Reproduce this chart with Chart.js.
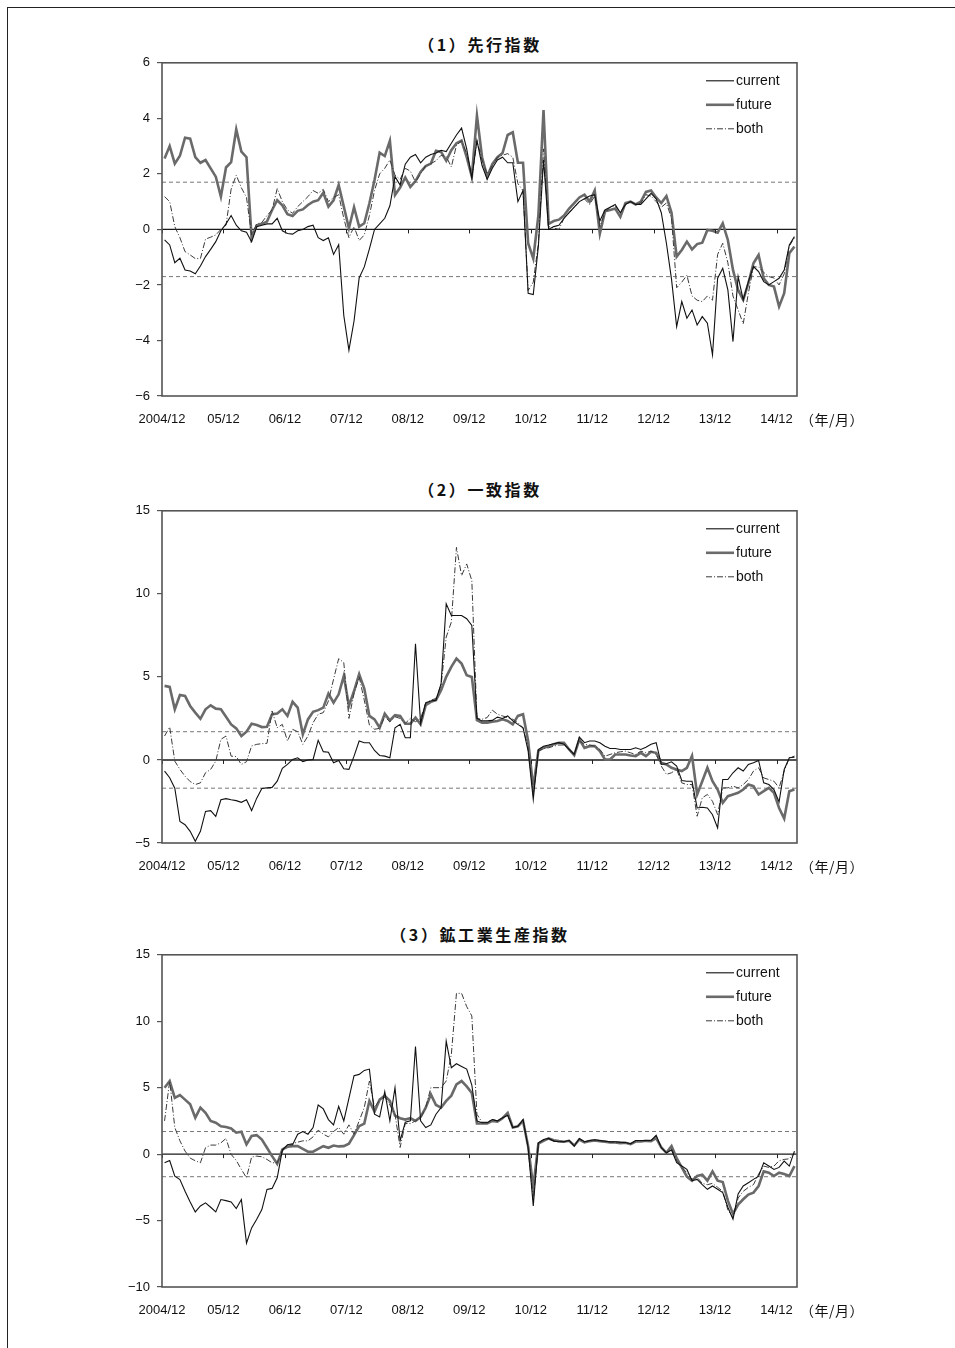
<!DOCTYPE html>
<html lang="ja">
<head>
<meta charset="utf-8">
<title>先行指数・一致指数・鉱工業生産指数</title>
<script src="https://cdn.jsdelivr.net/npm/chart.js@4.4.1/dist/chart.umd.min.js"></script>
<style>
  html, body { margin: 0; padding: 0; background: #fff; }
  body { width: 955px; height: 1348px; position: relative; overflow: hidden; }
  .sheet { position: absolute; left: 7px; top: 7px; width: 960px; height: 1360px;
           border-top: 1px solid #222; border-left: 1px solid #222; }
  canvas { position: absolute; left: 0; }
  .title { position: absolute; left: 0; width: 960px; text-align: center;
           font-family: "Noto Sans CJK JP", sans-serif; font-weight: bold; font-size: 16px;
           letter-spacing: 2.6px; color: #111; }
  .unit { position: absolute; left: 800px; font-family: "Noto Sans CJK JP", sans-serif;
          font-size: 14px; letter-spacing: 0.5px; color: #111; }
</style>
</head>
<body>
<div class="sheet"></div>

<div class="title" style="top:32px">（1）先行指数</div>
<canvas id="c1" width="955" height="387" style="top:48px"></canvas>
<div class="unit" style="top:409px">（年/月）</div>

<div class="title" style="top:477px">（2）一致指数</div>
<canvas id="c2" width="955" height="387" style="top:496px"></canvas>
<div class="unit" style="top:856px">（年/月）</div>

<div class="title" style="top:922px">（3）鉱工業生産指数</div>
<canvas id="c3" width="955" height="387" style="top:940px"></canvas>
<div class="unit" style="top:1300px">（年/月）</div>

<script>
// Monthly series, first value = 2004/12 (month index 0)
const tickMonths = [0, 12, 24, 36, 48, 60, 72, 84, 96, 108, 120];
const tickLabels = ['2004/12', '05/12', '06/12', '07/12', '08/12', '09/12', '10/12', '11/12', '12/12', '13/12', '14/12'];
const seriesNames = ['current', 'future', 'both'];
const bandLevel = 1.7;

// (1) 先行指数
const leadCurrent = [
  -0.38, -0.56, -1.2, -1.04, -1.46, -1.5, -1.6, -1.32, -0.98, -0.72, -0.44, -0.05,
  0.2, 0.5, 0.15, -0.05, -0.1, -0.45, 0.1, 0.15, 0.2, 0.2, 0.4, -0.05,
  -0.15, -0.17, -0.05, 0.0, 0.1, 0.15, -0.3, -0.4, -0.3, -0.9, -0.55, -3.1,
  -4.35, -3.3, -1.75, -1.35, -0.7, 0.0, 0.2, 0.4, 0.85, 1.9, 1.6, 2.35,
  2.6, 2.7, 2.4, 2.6, 2.7, 2.75, 2.85, 2.8, 3.1, 3.4, 3.65, 2.9,
  1.85, 3.2, 2.3, 1.8, 2.2, 2.5, 2.6, 2.4, 2.4, 1.0, 1.4, -2.3,
  -2.35, -0.6, 2.5, 0.0, 0.1, 0.15, 0.4, 0.6, 0.8, 1.0, 1.1, 1.2,
  1.25, 0.3, 0.7, 0.8, 0.9, 0.6, 0.9, 1.0, 0.9, 0.9, 1.1, 1.3,
  1.1, 0.6, -0.5, -1.8, -3.5, -2.6, -3.2, -2.9, -3.44, -3.14, -3.38, -4.52,
  -1.76, -1.4, -2.18, -4.04, -1.7, -2.54, -1.88, -1.34, -1.52, -1.88, -2.0, -1.88,
  -1.76, -1.46, -0.56, -0.26
];
const leadFuture = [
  2.55, 3.0, 2.37, 2.65, 3.3, 3.27, 2.6, 2.4, 2.5, 2.2, 1.9, 1.18,
  2.23, 2.42, 3.6, 2.8, 2.6, -0.3, 0.15, 0.2, 0.28, 0.7, 1.05, 0.87,
  0.55, 0.48, 0.67, 0.72, 0.88, 1.0, 1.05, 1.32, 0.82, 1.05, 1.6, 0.82,
  0.04, 0.8, 0.1, 0.22, 0.94, 1.78, 2.76, 2.64, 3.19, 1.24, 1.51, 1.87,
  1.53, 1.74, 2.07, 2.28, 2.37, 2.83, 2.79, 2.47, 2.85, 3.1, 3.2, 2.6,
  1.9, 4.1, 2.6, 1.9, 2.35, 2.6, 2.75, 3.4, 3.5, 2.4, 2.4, -0.5,
  -1.05, 0.5, 4.3, 0.2, 0.3, 0.35, 0.5, 0.75, 0.95, 1.15, 1.25, 1.0,
  1.4, -0.15, 0.65, 0.7, 0.75, 0.45, 0.95, 1.0, 0.9, 1.0, 1.35, 1.4,
  1.15, 0.95, 1.2, 0.6, -0.98, -0.74, -0.44, -0.72, -0.53, -0.48, -0.02, -0.05,
  -0.12, 0.22, -0.38, -1.46, -2.18, -2.54, -1.94, -1.22, -0.92, -1.76, -2.0, -2.06,
  -2.78, -2.3, -0.86, -0.62
];
const leadBoth = [
  1.18, 1.0, 0.1, -0.3, -0.8, -0.92, -1.05, -1.05, -0.35, -0.28, -0.2, 0.0,
  0.15, 1.45, 1.95, 1.5, 1.15, -0.2, 0.2, 0.25, 0.5, 0.7, 1.47, 1.0,
  0.7, 0.58, 0.82, 1.0, 1.18, 1.4, 1.3, 1.44, 1.0, 1.15, 1.25, 0.4,
  -0.3, 0.1, -0.4, -0.2, 0.5, 1.4, 2.0, 2.2, 2.5, 1.95, 1.8, 2.2,
  2.1, 1.7, 2.0, 2.3, 2.37, 2.47, 2.67, 2.62, 2.25, 3.03, 3.19, 2.73,
  1.84, 3.2, 2.5, 2.0, 2.3, 2.6, 2.67, 2.73, 2.6, 1.65, 1.4, -2.2,
  -1.9, -0.5, 2.9, 0.1, 0.05, 0.0, 0.4, 0.6, 0.8, 1.0, 1.1, 0.9,
  1.2, 0.1, 0.6, 0.8, 0.85, 0.6, 0.9, 1.0, 0.9, 0.95, 1.25, 1.2,
  1.0, 0.8, 0.95, 0.4, -2.1, -1.9, -1.65, -2.4, -2.55, -2.6, -2.4, -2.55,
  -0.9, -0.5, -1.2, -2.4, -2.9, -3.4, -2.3, -1.35, -1.35, -1.55, -1.7, -1.75,
  -2.0, -1.6, -0.6, -0.3
];

// (2) 一致指数
const coinCurrent = [
  -0.67, -1.07, -1.7, -3.7, -3.9, -4.3, -4.9, -4.3, -3.1, -3.05, -3.4, -2.4,
  -2.33, -2.4, -2.45, -2.55, -2.4, -3.05, -2.3, -1.72, -1.68, -1.65, -1.28, -0.5,
  -0.27, 0.03, 0.13, -0.1, 0.0, 0.03, 1.18, 0.5, 0.47, -0.17, -0.03, -0.53,
  -0.57, 0.23, 1.14, 1.04, 1.04, 0.57, 0.27, 0.23, 0.13, 1.94, 2.14, 1.34,
  1.34, 7.0, 2.2, 3.45, 3.55, 3.6, 4.6, 9.4, 8.7, 8.7, 8.7, 8.5,
  8.1, 2.5, 2.35, 2.35, 2.38, 2.58, 2.5, 2.65, 2.35, 2.14, 1.94, 0.53,
  -2.38, 0.63, 0.83, 0.9, 0.98, 1.04, 0.94, 0.63, 0.33, 1.38, 1.04, 1.14,
  1.14, 1.04, 0.83, 0.69, 0.69, 0.63, 0.63, 0.63, 0.73, 0.63, 0.77, 0.94,
  1.04, -0.27, -0.23, -0.11, -0.37, -1.24, -1.28, -1.28, -2.89, -2.85, -2.89, -3.3,
  -4.09, -1.18, -1.18, -0.77, -0.47, -0.67, -0.27, -0.17, -0.03, -1.38, -1.48, -1.78,
  -2.53, -0.57, 0.13, 0.17
];
const coinFuture = [
  4.46, 4.4, 3.05, 3.91, 3.85, 3.25, 2.85, 2.48, 3.05, 3.29, 3.09, 3.05,
  2.6, 2.14, 1.9, 1.44, 1.7, 2.18, 2.1, 1.98, 2.0, 2.75, 2.8, 3.05,
  2.65, 3.5, 3.15, 1.54, 2.44, 2.9, 3.0, 3.15, 4.0, 3.45, 3.95, 5.06,
  3.25, 4.15, 5.16, 4.3, 2.65, 2.44, 1.94, 2.79, 2.38, 2.7, 2.65, 2.18,
  2.18, 2.55, 2.14, 3.3, 3.5, 3.6, 4.2, 5.0, 5.6, 6.1, 5.8, 5.1,
  5.0, 2.4, 2.24, 2.24, 2.3, 2.35, 2.45, 2.35, 2.14, 2.65, 2.75, 1.14,
  -1.68, 0.57, 0.73, 0.83, 0.94, 1.04, 1.04, 0.63, 0.29, 1.24, 0.73, 0.83,
  0.83, 0.53, 0.03, 0.03, 0.33, 0.33, 0.33, 0.27, 0.23, 0.43, 0.23, 0.49,
  0.43, -0.17, -0.27, -0.47, -0.57, -0.67, -0.47, 0.25, -2.08, -1.28, -0.47, -1.28,
  -1.78, -2.58, -2.18, -2.08, -1.98, -1.78, -1.48, -1.58, -2.08, -1.88, -1.68, -1.98,
  -2.89, -3.53, -1.88, -1.78
];
const coinBoth = [
  1.44, 1.98, -0.07, -0.57, -0.98, -1.3, -1.48, -1.38, -0.77, -0.57, -0.07, 1.24,
  1.44, 0.23, 0.2, -0.27, -0.11, 0.84, 0.94, 0.98, 1.0, 2.95, 1.94, 2.14,
  1.14, 1.84, 1.7, 0.94, 1.44, 2.24, 2.75, 2.85, 3.55, 4.86, 6.1, 5.86,
  2.5, 4.0, 5.0, 3.6, 2.1, 1.85, 1.9, 2.6, 2.3, 2.6, 2.5, 2.2,
  2.5, 2.3, 2.5, 3.4, 3.6, 3.7, 4.5, 7.4, 8.3, 12.8, 11.1, 11.8,
  10.8, 2.5, 2.45, 2.55, 3.0, 2.75, 2.65, 2.55, 2.45, 2.24, 1.94, 0.73,
  -1.98, 0.53, 0.69, 0.73, 0.83, 0.9, 0.9, 0.63, 0.37, 1.14, 0.94, 0.9,
  0.83, 0.63, 0.23, 0.33, 0.43, 0.49, 0.53, 0.43, 0.33, 0.53, 0.43, 0.53,
  0.33, -0.37, -0.87, -0.77, -0.57, -1.38, -1.48, -1.48, -3.39, -2.28, -2.08, -2.49,
  -3.29, -1.68, -1.68, -1.58, -1.68, -1.48, -1.18, -0.67, -0.47, -1.08, -1.18, -1.28,
  -1.68, -0.67, 0.13, 0.23
];

// (3) 鉱工業生産指数
const iipCurrent = [
  -0.65, -0.48, -1.66, -1.91, -2.79, -3.6, -4.35, -3.9, -3.67, -4.0, -4.35, -3.42,
  -3.5, -3.6, -4.1, -3.42, -6.7, -5.55, -4.9, -4.17, -2.66, -2.58, -1.78, 0.3,
  0.7, 0.7, 1.5, 1.7, 1.5, 2.0, 3.7, 3.4, 2.6, 2.2, 3.6, 2.5,
  4.2, 5.9, 6.0, 6.3, 6.4, 3.0, 2.8, 4.7, 2.5, 5.0, 1.0, 2.4,
  2.5, 8.1, 2.5, 2.0, 2.2, 3.0, 3.5, 8.5, 6.5, 6.8, 6.6, 6.4,
  5.2, 2.5, 2.36, 2.36, 2.6, 2.5, 2.74, 2.9, 2.0, 2.1, 2.6, 0.48,
  -3.9, 0.85, 1.1, 1.18, 0.98, 0.93, 0.93, 1.03, 0.6, 1.18, 0.93, 1.03,
  1.08, 1.03, 0.98, 0.93, 0.93, 0.9, 0.88, 0.78, 1.03, 1.03, 1.03, 1.03,
  1.43, 0.48, 0.1, 0.3, -0.65, -0.9, -1.15, -2.0, -1.9, -2.3, -2.65, -2.4,
  -2.65, -2.9, -4.0, -4.9, -3.0, -2.4, -2.15, -1.9, -1.66, -0.65, -0.9, -1.15,
  -1.0, -0.53, -0.9, 0.23
];
const iipFuture = [
  5.0, 5.5, 4.24, 4.45, 4.1, 3.75, 2.74, 3.5, 3.1, 2.49, 2.36, 2.1,
  2.04, 1.93, 1.61, 1.68, 0.73, 1.36, 1.43, 1.1, 0.48, -0.15, -0.73, 0.35,
  0.55, 0.6, 0.6, 0.4, 0.18, 0.18, 0.4, 0.6, 0.48, 0.65, 0.58, 0.6,
  0.78, 1.43, 2.1, 2.3, 4.0, 3.2, 4.1, 4.4, 4.0, 2.9, 2.7, 2.6,
  2.7, 2.5, 2.8, 3.5, 4.5, 3.7, 3.5, 4.0, 4.4, 5.25, 5.5, 5.1,
  4.6, 2.3, 2.3, 2.3, 2.5, 2.45, 2.7, 3.1, 2.0, 2.1, 2.5, 0.6,
  -2.5, 0.8, 1.0, 1.18, 1.05, 0.98, 0.93, 1.0, 0.65, 1.1, 0.88, 0.98,
  1.03, 0.98, 0.93, 0.88, 0.88, 0.83, 0.85, 0.75, 0.95, 0.95, 1.0, 0.98,
  1.2, 0.5, 0.1, 0.6, -0.3, -1.0, -1.7, -2.0, -1.65, -1.55, -2.0, -1.3,
  -2.0, -2.1, -3.5, -4.5, -3.8, -3.4, -3.05, -2.9, -2.4, -1.3, -1.4, -1.65,
  -1.4, -1.5, -1.65, -0.9
];
const iipBoth = [
  2.5, 5.5, 2.0, 1.0, 0.23, -0.3, -0.5, -0.65, 0.48, 0.68, 0.68, 0.85,
  1.18, -0.02, -0.48, -1.15, -1.78, -0.22, -0.15, -0.2, -0.4, -0.65, -0.65, 0.23,
  0.7, 0.8, 0.9, 1.0, 1.0, 1.3, 1.8, 1.5, 1.3, 1.7, 2.0, 1.5,
  2.2, 1.5, 2.5, 3.5, 5.5, 3.5, 4.1, 4.3, 3.7, 3.0, 0.5, 2.3,
  2.3, 2.5, 2.7, 3.5, 5.0, 5.0, 5.0, 5.5, 7.5, 12.1, 12.1, 11.1,
  10.4, 3.0, 2.4, 2.4, 2.6, 2.5, 2.7, 3.0, 2.0, 2.1, 2.6, 0.5,
  -3.5, 0.85, 1.05, 1.15, 1.0, 0.95, 0.93, 1.0, 0.62, 1.15, 0.9, 1.0,
  1.05, 1.0, 0.95, 0.9, 0.9, 0.88, 0.85, 0.78, 1.0, 1.0, 1.0, 1.0,
  1.35, 0.45, 0.1, 0.4, -0.5, -1.0, -1.4, -1.9, -1.75, -2.2, -2.3, -2.2,
  -2.5, -2.8, -4.2, -4.8, -3.3, -2.8, -2.5, -2.3, -1.5, -0.9, -1.0, -0.9,
  -0.5, -0.4, -0.35, 0.1
];

const monthSpan = 124; // 2004/12 .. 2015/03 slots

const styles = {
  current: { borderColor: '#111', borderWidth: 1.1, borderDash: [], order: 1 },
  future:  { borderColor: '#6a6a6a', borderWidth: 2.6, borderDash: [], order: 3 },
  both:    { borderColor: '#3a3a3a', borderWidth: 1, borderDash: [6, 2, 1, 2], order: 2 }
};

const axisFont = { family: '"Liberation Sans", Arial, sans-serif', size: 13 };

function toPoints(values) {
  // each month sits in the middle of its slot
  return values.map((v, i) => ({ x: i + 0.5, y: v }));
}

function flatLine(level, color, dash, width) {
  return {
    data: [{ x: 0, y: level }, { x: monthSpan, y: level }],
    borderColor: color, borderWidth: width, borderDash: dash,
    pointRadius: 0, order: 10
  };
}

const framePlugin = {
  id: 'frame',
  afterDatasetsDraw(chart) {
    const { ctx, chartArea: a, scales: { x, y } } = chart;
    ctx.save();
    const y0 = y.getPixelForValue(0);
    ctx.strokeStyle = '#222';
    ctx.lineWidth = 1;
    tickMonths.forEach(m => {
      const px = Math.round(x.getPixelForValue(m)) + 0.5;
      ctx.beginPath();
      ctx.moveTo(px, y0);
      ctx.lineTo(px, y0 + 4);
      ctx.stroke();
    });
    ctx.strokeStyle = '#555';
    ctx.lineWidth = 1.6;
    ctx.strokeRect(a.left, a.top, a.right - a.left, a.bottom - a.top);
    ctx.restore();
  }
};

const legendPlugin = {
  id: 'innerLegend',
  afterDraw(chart) {
    const { ctx, chartArea: a } = chart;
    const x0 = a.left + 544, y0 = a.top + 18;
    ctx.save();
    ctx.font = '14px "Liberation Sans", Arial, sans-serif';
    ctx.fillStyle = '#111';
    ctx.textBaseline = 'middle';
    seriesNames.forEach((name, k) => {
      const s = styles[name];
      const yy = y0 + k * 24;
      ctx.strokeStyle = s.borderColor;
      ctx.lineWidth = s.borderWidth;
      ctx.setLineDash(s.borderDash);
      ctx.beginPath();
      ctx.moveTo(x0, yy);
      ctx.lineTo(x0 + 28, yy);
      ctx.stroke();
      ctx.setLineDash([]);
      ctx.fillText(name, x0 + 30, yy);
    });
    ctx.restore();
  }
};

function makeChart(id, seriesList, yMin, yMax, yStep, xHeight) {
  const datasets = [
    flatLine(0, '#1a1a1a', [], 1.4),
    flatLine(bandLevel, '#777', [4, 3], 1),
    flatLine(-bandLevel, '#777', [4, 3], 1)
  ];
  seriesNames.forEach((name, k) => {
    datasets.push(Object.assign({
      label: name,
      data: toPoints(seriesList[k]),
      pointRadius: 0,
      tension: 0,
      fill: false
    }, styles[name]));
  });

  return new Chart(document.getElementById(id), {
    type: 'line',
    data: { datasets },
    options: {
      responsive: false,
      animation: false,
      devicePixelRatio: 1,
      layout: { padding: { top: 1, right: 158, left: 0, bottom: 0 } },
      plugins: { legend: { display: false }, tooltip: { enabled: false } },
      scales: {
        x: {
          type: 'linear', min: 0, max: monthSpan,
          afterBuildTicks: s => { s.ticks = tickMonths.map(v => ({ value: v })); },
          afterFit: s => { s.height = xHeight; },
          ticks: {
            callback: v => tickLabels[tickMonths.indexOf(v)] || '',
            font: axisFont, color: '#111', padding: 16, maxRotation: 0, autoSkip: false
          },
          grid: { display: false, drawTicks: false },
          border: { display: false }
        },
        y: {
          min: yMin, max: yMax,
          afterFit: s => { s.width = 162; },
          ticks: {
            stepSize: yStep,
            callback: v => String(v).replace('-', '\u2212'),
            font: axisFont, color: '#111', padding: 7
          },
          grid: { drawOnChartArea: false, drawTicks: true, tickLength: 5, color: '#555', lineWidth: 1.2 },
          border: { display: false }
        }
      }
    },
    plugins: [framePlugin, legendPlugin]
  });
}

makeChart('c1', [leadCurrent, leadFuture, leadBoth], -6, 6, 2, 39);
makeChart('c2', [coinCurrent, coinFuture, coinBoth], -5, 15, 5, 40);
makeChart('c3', [iipCurrent, iipFuture, iipBoth], -10, 15, 5, 40);
</script>
</body>
</html>
